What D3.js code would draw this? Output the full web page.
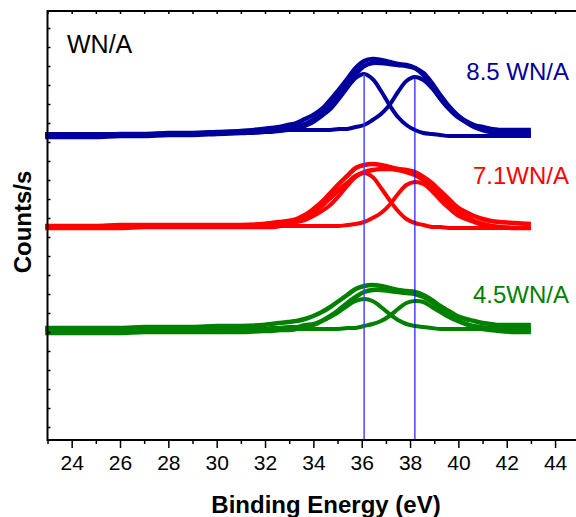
<!DOCTYPE html>
<html lang="en">
<head>
    <meta charset="UTF-8">
    <title>xps-wn-a</title>
    <script src="https://cdn.jsdelivr.net/npm/d3@7/dist/d3.min.js"></script>
    <style>
        html, body{
            margin: 0;
            padding: 0;
            background: #fff;
        }
        svg{
            display: block;
            font-family: "Liberation Sans", Arial, sans-serif;
        }
    </style>
</head>
<body>
<svg class="xps"></svg>
<script>

    // binding energy grid (eV)
    var energy = [22.9, 24, 25, 26, 27, 28, 29, 30, 31,
        31.9, 32.25, 32.6, 32.95, 33.3, 33.65, 34.0, 34.35, 34.7, 35.05, 35.4, 35.75,
        36.1, 36.45, 36.8, 37.15, 37.5, 37.85, 38.2,
        38.55, 38.9, 39.25, 39.6, 39.95, 40.3, 40.65, 41.0, 41.35, 41.7, 42.35, 43.0];

    // 8.5 WN/A : envelope (outer, inner) and the two fitted peaks
    var blueEnv1 = [305,305,305,306,306,307,307,308,309,311,312,313,315,317,321,325,331,340,350,361,372,379,381,380,378,376,375,372,365,354,342,332,325,319,315,313,311,310,310,310];
    var blueEnv2 = [303,303,303,304,304,305,305,306,307,308,309,310,311,313,316,320,326,334,344,355,366,374,377,377,376,375,374,372,367,357,345,334,325,318,313,310,308,307,306,306];
    var bluePeak1 = [306,306,306,306,306,306,307,307,307,308,308,309,310,312,314,318,324,331,341,352,362,366,361,349,335,323,315,310,307,306,305,304,304,304,304,304,304,304,304,304];
    var bluePeak2 = [306,306,306,306,306,306,306,307,308,309,310,310,310,310,310,310,310,310,311,311,313,315,320,326,335,348,359,363,360,352,341,331,323,318,314,311,309,308,307,307];

    // 7.1WN/A
    var redEnv1 = [214,214,214,215,215,215,215,215,215,216,217,218,219,221,225,231,238,247,256,264,272,275,276,275,273,271,270,268,263,257,249,241,233,228,224,221,219,218,217,216];
    var redEnv2 = [212,212,212,212,213,213,213,213,213,213,213,214,216,218,222,228,234,242,250,257,264,268,270,271,271,270,268,265,260,253,245,237,230,224,219,216,214,213,212,212];
    var redPeak1 = [214,214,214,214,214,214,214,214,214,215,215,216,217,218,220,224,229,235,244,254,263,267,263,252,240,229,221,217,215,213,213,212,212,212,212,212,212,212,212,212];
    var redPeak2 = [214,214,214,214,214,214,214,214,214,214,214,214,214,214,214,214,214,214,214,215,216,218,222,227,235,246,255,258,256,249,240,232,225,221,218,215,214,213,212,212];

    // 4.5WN/A
    var greenEnv1 = [112,112,112,112,113,113,113,114,114,115,116,117,118,119,121,124,128,133,139,145,151,154,155,154,152,150,149,148,145,140,134,129,124,121,119,117,116,115,115,115];
    var greenEnv2 = [107,107,107,107,108,108,108,108,108,109,109,110,110,111,113,115,119,124,130,137,143,148,150,150,149,148,147,146,143,138,131,125,120,116,113,111,110,109,108,108];
    var greenPeak1 = [111,111,111,111,111,111,111,111,111,111,112,112,113,113,115,116,119,123,128,134,139,141,139,133,126,120,116,114,113,112,111,111,111,111,111,111,111,111,111,111];
    var greenPeak2 = [111,111,111,111,111,111,111,111,111,111,111,111,111,111,111,111,111,111,111,112,112,114,116,119,124,131,137,139,138,133,128,123,119,116,114,113,112,112,111,111];

    var sampleNames = ['8.5 WN/A', '7.1WN/A', '4.5WN/A'];
    var peakEnergy = [36.1, 38.2];
    var xMajorTicks = [24, 26, 28, 30, 32, 34, 36, 38, 40, 42, 44];
    var xMinorTicks = [23, 25, 27, 29, 31, 33, 35, 37, 39, 41, 43, 45];

    var colors = ['#00009c', '#ff0000', '#008000'];
    var series = [
        [blueEnv1, blueEnv2, bluePeak1, bluePeak2],
        [redEnv1, redEnv2, redPeak1, redPeak2],
        [greenEnv1, greenEnv2, greenPeak1, greenPeak2]
    ];

    // svg size
    var width = 576;
    var height = 517;
    var margins = {top: 11, left: 47.5, bottom: 77};

    var x = d3.scaleLinear()
        .domain([23, 45])
        .range([margins.left, margins.left + 22 * 24.17]);

    var y = d3.scaleLinear()
        .domain([0, 429])
        .range([height - margins.bottom, margins.top]);

    var svg = d3.select('.xps')
        .attr('width', width)
        .attr('height', height);

    // spectra
    var line = d3.line()
        .x(function (d, i) { return x(energy[i]); })
        .y(function (d) { return y(d); })
        .curve(d3.curveCatmullRom.alpha(0.5));

    series.forEach(function (s, k) {
        svg.append('g')
            .selectAll('path')
            .data(s)
            .enter()
            .append('path')
            .attr('d', line)
            .attr('fill', 'none')
            .attr('stroke', colors[k])
            .attr('stroke-linejoin', 'round')
            .attr('stroke-width', function (d, i) { return i < 2 ? 4.5 : 4; });
    });

    // peak position markers, up to the top sample's fitted peaks
    var peakTops = [d3.max(bluePeak1), d3.max(bluePeak2)];
    svg.append('g')
        .selectAll('line')
        .data(peakEnergy)
        .enter()
        .append('line')
        .attr('x1', function (d) { return x(d); })
        .attr('x2', function (d) { return x(d); })
        .attr('y1', y(0))
        .attr('y2', function (d, i) { return y(peakTops[i]); })
        .attr('stroke', function (d, i) { return i === 0 ? '#3c3cff' : '#0000ff'; })
        .attr('stroke-width', function (d, i) { return i === 0 ? 1.4 : 1.1; });

    // frame
    svg.append('rect')
        .attr('x', x(23))
        .attr('y', y(429))
        .attr('width', x(45) - x(23))
        .attr('height', y(0) - y(429))
        .attr('fill', 'none')
        .attr('stroke', '#000')
        .attr('stroke-width', 2);

    // x axis, major + minor
    var xAxis = svg.append('g')
        .attr('transform', 'translate(0,' + y(0) + ')')
        .call(d3.axisBottom(x).tickValues(xMajorTicks).tickSize(8).tickPadding(7).tickFormat(d3.format('d')));
    svg.append('g')
        .attr('transform', 'translate(0,' + y(0) + ')')
        .call(d3.axisBottom(x).tickValues(xMinorTicks).tickSize(4).tickFormat(''));

    // top and left inner ticks
    svg.append('g')
        .attr('transform', 'translate(0,' + y(429) + ')')
        .call(d3.axisTop(x).tickValues(d3.range(23, 46)).tickSize(-3).tickFormat(''));
    svg.append('g')
        .attr('transform', 'translate(' + x(23) + ',0)')
        .call(d3.axisLeft(y).tickValues(d3.range(13, 429, 19)).tickSize(-3).tickFormat(''));

    svg.selectAll('.domain').remove();
    svg.selectAll('.tick line').attr('stroke', '#000').attr('stroke-width', 1.5);
    xAxis.selectAll('text')
        .attr('fill', '#000')
        .style('font-size', '21px')
        .style('font-family', '"Liberation Sans", Arial, sans-serif');

    // axis titles
    svg.append('text')
        .attr('x', 326)
        .attr('y', 513)
        .attr('text-anchor', 'middle')
        .style('font-size', '24px')
        .style('font-weight', 'bold')
        .text('Binding Energy (eV)');

    svg.append('text')
        .attr('transform', 'translate(31,222) rotate(-90)')
        .attr('text-anchor', 'middle')
        .style('font-size', '24px')
        .style('font-weight', 'bold')
        .text('Counts/s');

    // labels
    svg.append('text')
        .attr('x', 67)
        .attr('y', 53)
        .style('font-size', '25px')
        .text('WN/A');

    var labelY = [80, 184, 303];
    svg.append('g')
        .selectAll('text')
        .data(sampleNames)
        .enter()
        .append('text')
        .attr('x', 569)
        .attr('y', function (d, i) { return labelY[i]; })
        .attr('text-anchor', 'end')
        .attr('fill', function (d, i) { return colors[i]; })
        .style('font-size', '24px')
        .text(function (d) { return d; });

</script>
</body>
</html>
